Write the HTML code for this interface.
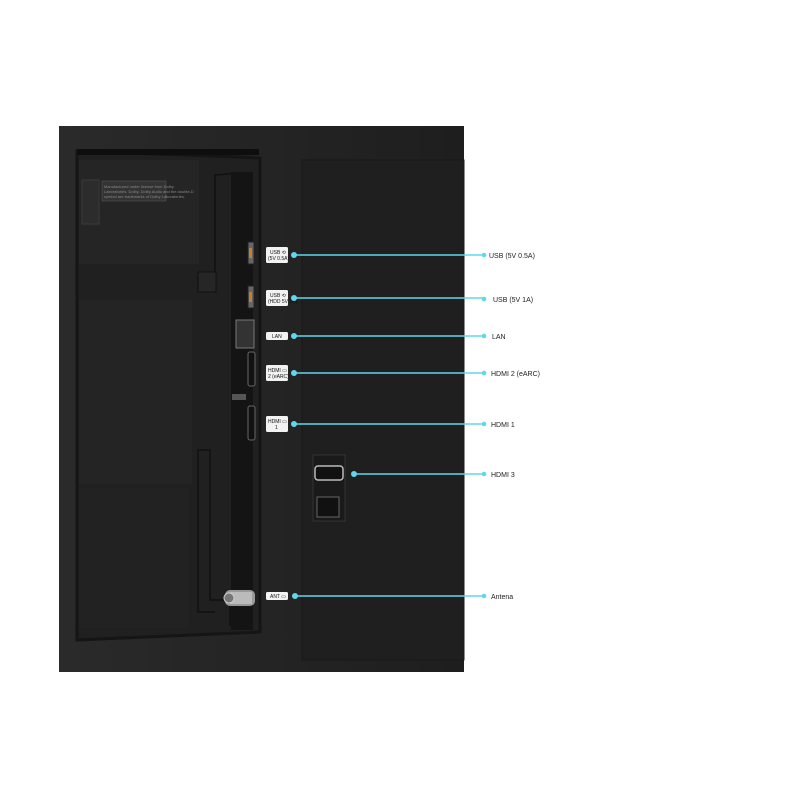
<!DOCTYPE html>
<html><head><meta charset="utf-8"><style>
html,body{margin:0;padding:0;background:#fff;width:800px;height:800px;overflow:hidden}
text{font-family:"Liberation Sans",sans-serif}
</style></head><body>
<svg width="800" height="800" viewBox="0 0 800 800" xmlns="http://www.w3.org/2000/svg">
<defs>
<linearGradient id="bg" x1="0" y1="0" x2="1" y2="0"><stop offset="0" stop-color="#2a2a2a"/><stop offset="1" stop-color="#1e1e1e"/></linearGradient>
</defs>
<rect x="0" y="0" width="800" height="800" fill="#fff"/>
<rect x="59" y="126" width="405" height="546" fill="url(#bg)"/>
<path d="M77 151 L77 640 L260 632 L260 158 L240 157 Z" fill="#202020" stroke="#151515" stroke-width="3"/>
<rect x="77" y="149" width="182" height="6" fill="#0e0e0e"/>
<rect x="79" y="160" width="120" height="104" fill="#252525"/>
<rect x="79" y="300" width="113" height="184" fill="#242424"/>
<rect x="79" y="488" width="110" height="140" fill="#222"/>
<rect x="82" y="180" width="17" height="44" fill="#2c2c2c" stroke="#3a3a3a"/>
<rect x="102" y="181" width="64" height="20" fill="#333" stroke="#555" stroke-width="0.6"/>
<text x="104" y="188" font-size="4" fill="#888">Manufactured under license from Dolby</text>
<text x="104" y="193" font-size="4" fill="#888">Laboratories. Dolby, Dolby Audio and the double-D</text>
<text x="104" y="198" font-size="4" fill="#888">symbol are trademarks of Dolby Laboratories.</text>
<path d="M215 175 L240 173 L240 625 L230 625 L230 600 L210 600 L210 450 L198 450 L198 612 L215 612" fill="none" stroke="#111" stroke-width="1.5"/>
<rect x="231" y="172" width="22" height="458" fill="#141414"/>
<path d="M215 175 L215 290 L198 290 L198 276" fill="none" stroke="#111" stroke-width="1.5"/>
<rect x="198" y="272" width="18" height="20" fill="#262626" stroke="#111"/>
<rect x="248" y="242" width="6" height="22" fill="#666" stroke="#222"/><rect x="249" y="248" width="3" height="10" fill="#c08030"/>
<rect x="248" y="286" width="6" height="22" fill="#666" stroke="#222"/><rect x="249" y="292" width="3" height="10" fill="#c08030"/>
<rect x="236" y="320" width="18" height="28" fill="#333" stroke="#777"/>
<rect x="248" y="352" width="7" height="34" rx="2" fill="#111" stroke="#666"/>
<rect x="232" y="394" width="14" height="6" fill="#555"/>
<rect x="248" y="406" width="7" height="34" rx="2" fill="#111" stroke="#666"/>
<rect x="225" y="590" width="30" height="16" rx="5" fill="#999"/><rect x="230" y="592" width="22" height="12" fill="#bbb"/>
<circle cx="229" cy="598" r="5" fill="#777" stroke="#ccc"/>
<rect x="302" y="160" width="162" height="500" fill="#1f1f1f" stroke="#181818"/>
<rect x="313" y="455" width="32" height="66" fill="#1a1a1a" stroke="#333"/>
<rect x="315" y="466" width="28" height="14" rx="3" fill="#111" stroke="#bbb" stroke-width="1.5"/>
<rect x="317" y="497" width="22" height="20" fill="#111" stroke="#666"/>
<g font-size="5" fill="#111">
<rect x="266" y="247" width="22" height="16" rx="1.5" fill="#f2f2f2"/><text x="270" y="254">USB ⟲</text><text x="268" y="260">(5V 0.5A)</text>
<rect x="266" y="290" width="22" height="16" rx="1.5" fill="#f2f2f2"/><text x="270" y="297">USB ⟲</text><text x="268" y="303">(HDD 5V 1A)</text>
<rect x="266" y="332" width="22" height="8" rx="1.5" fill="#f2f2f2"/><text x="272" y="338">LAN</text>
<rect x="266" y="365" width="22" height="16" rx="1.5" fill="#f2f2f2"/><text x="268" y="372">HDMI ▭</text><text x="268" y="378">2 (eARC)</text>
<rect x="266" y="416" width="22" height="16" rx="1.5" fill="#f2f2f2"/><text x="268" y="423">HDMI ▭</text><text x="275" y="429">1</text>
<rect x="266" y="592" width="22" height="8" rx="1.5" fill="#f2f2f2"/><text x="270" y="598">ANT ▭</text>
</g>
<g stroke="#5fd8ec" stroke-width="1.6" fill="#5fd8ec">
<line x1="294" y1="255" x2="484" y2="255"/><circle cx="294" cy="255" r="3" stroke="none"/><circle cx="484" cy="255" r="2.3" stroke="none"/>
<line x1="294" y1="298" x2="484" y2="298"/><circle cx="294" cy="298" r="3" stroke="none"/><circle cx="484" cy="299" r="2.3" stroke="none"/>
<line x1="294" y1="336" x2="484" y2="336"/><circle cx="294" cy="336" r="3" stroke="none"/><circle cx="484" cy="336" r="2.3" stroke="none"/>
<line x1="294" y1="373" x2="484" y2="373"/><circle cx="294" cy="373" r="3" stroke="none"/><circle cx="484" cy="373" r="2.3" stroke="none"/>
<line x1="294" y1="424" x2="484" y2="424"/><circle cx="294" cy="424" r="3" stroke="none"/><circle cx="484" cy="424" r="2.3" stroke="none"/>
<line x1="354" y1="474" x2="484" y2="474"/><circle cx="354" cy="474" r="3" stroke="none"/><circle cx="484" cy="474" r="2.3" stroke="none"/>
<line x1="295" y1="596" x2="484" y2="596"/><circle cx="295" cy="596" r="3" stroke="none"/><circle cx="484" cy="596" r="2.3" stroke="none"/>
</g>
<g font-size="7" fill="#222">
<text x="489" y="258">USB (5V 0.5A)</text>
<text x="493" y="302">USB (5V 1A)</text>
<text x="492" y="339">LAN</text>
<text x="491" y="376">HDMI 2 (eARC)</text>
<text x="491" y="427">HDMI 1</text>
<text x="491" y="477">HDMI 3</text>
<text x="491" y="599">Antena</text>
</g>
</svg>
</body></html>
